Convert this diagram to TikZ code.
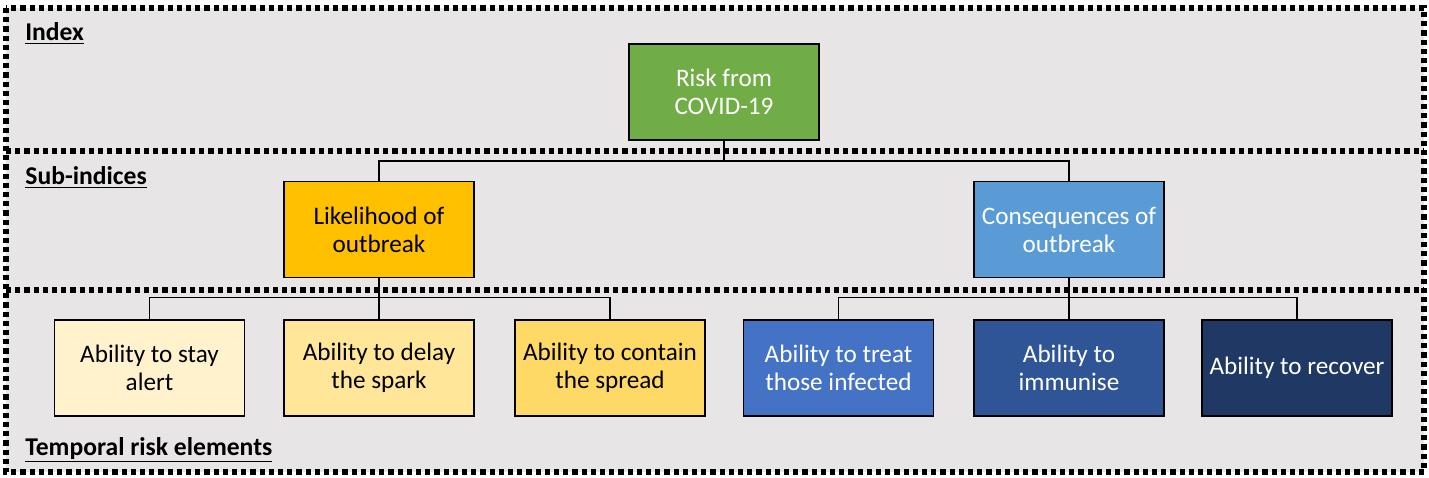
\documentclass[tikz,border=0pt]{standalone}
\usepackage{fontspec}
\setmainfont{Carlito}
\usetikzlibrary{positioning}
\definecolor{bgray}{HTML}{E7E5E6}
\definecolor{rgreen}{HTML}{70AD47}
\definecolor{lgold}{HTML}{FFC000}
\definecolor{cblue}{HTML}{5B9BD5}
\definecolor{yone}{HTML}{FFF2CC}
\definecolor{ytwo}{HTML}{FFE699}
\definecolor{ythree}{HTML}{FFD966}
\definecolor{bone}{HTML}{4472C4}
\definecolor{btwo}{HTML}{2F5597}
\definecolor{bthree}{HTML}{203864}
\tikzset{
  box/.style={draw=black, line width=0.8pt, minimum width=95pt, minimum height=48pt,
    align=center, font=\fontsize{12.6}{14}\selectfont, inner sep=1pt},
  zone/.style={draw=black, line width=2.6pt, dash pattern=on 2.6pt off 2pt},
  header/.style={anchor=base west, inner sep=0pt, font=\fontsize{12.8}{15}\selectfont\bfseries},
  link/.style={draw=black, line width=0.8pt}
}
\begin{document}
\begin{tikzpicture}[x=0.5pt,y=-0.5pt]
  \useasboundingbox (0,0) rectangle (1429,477);
  \fill[bgray] (6,8) rectangle (1424,472);
  % the three levels
  \draw[zone] (6,8) rectangle (1424,472);
  \draw[zone] (6,151) -- (1424,151);
  \draw[zone] (6,290) -- (1424,290);
  \node[header] (hindex) at (25,40) {\underline{Index}};
  \node[header] (hsub) at (25,184) {\underline{Sub-indices}};
  \node[header] (htemp) at (25,455) {\underline{Temporal risk elements}};
  % index and sub-indices
  \node[box, fill=rgreen, text=white] (risk) at (724,92) {Risk from\\COVID-19};
  \node[box, fill=lgold] (likely) at (379,229.5) {Likelihood of\\outbreak};
  \node[box, fill=cblue, text=white] (conseq) at (1069,229.5) {Consequences of\\outbreak};
  % temporal risk elements
  \node[box, fill=yone] (alert) at (149.5,368) {Ability to stay\\alert};
  \node[box, fill=ytwo] (delay) at (379,368) {Ability to delay\\the spark};
  \node[box, fill=ythree] (contain) at (610,368) {Ability to contain\\the spread};
  \node[box, fill=bone, text=white] (treat) at (838.5,368) {Ability to treat\\those infected};
  \node[box, fill=btwo, text=white] (immune) at (1069,368) {Ability to\\immunise};
  \node[box, fill=bthree, text=white] (recover) at (1297,368) {Ability to recover};
  % connectors
  \foreach \child in {likely, conseq} {
    \draw[link] (risk.south) -- ++(0,20) -| (\child.north);
  }
  \foreach \child in {alert, delay, contain} {
    \draw[link] (likely.south) -- ++(0,19) -| (\child.north);
  }
  \foreach \child in {treat, immune, recover} {
    \draw[link] (conseq.south) -- ++(0,19) -| (\child.north);
  }
\end{tikzpicture}
\end{document}
